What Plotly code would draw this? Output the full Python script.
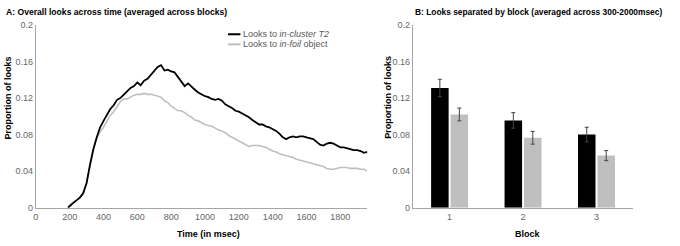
import plotly.graph_objects as go

# ---- Data: panel A (time course) ----
time_ms = [190, 200, 220, 240, 260, 280, 300, 320, 340, 360, 380, 400, 420, 440, 460, 480,
           500, 520, 540, 560, 580, 600, 620, 640, 660, 680, 700, 720, 740, 760, 780, 800,
           820, 840, 860, 880, 900, 920, 940, 960, 980, 1000, 1020, 1040, 1060, 1080, 1100,
           1120, 1140, 1160, 1180, 1200, 1220, 1240, 1260, 1280, 1300, 1320, 1340, 1360,
           1380, 1400, 1420, 1440, 1460, 1480, 1500, 1520, 1540, 1560, 1580, 1600, 1620,
           1640, 1660, 1680, 1700, 1720, 1740, 1760, 1780, 1800, 1820, 1840, 1860, 1880,
           1900, 1920, 1940, 1960]
looks_cluster_t2 = [0, 0.002, 0.005, 0.008, 0.011, 0.016, 0.027, 0.047, 0.064, 0.077, 0.088,
                    0.095, 0.102, 0.108, 0.112, 0.118, 0.120, 0.124, 0.127, 0.131, 0.133, 0.137,
                    0.134, 0.139, 0.141, 0.145, 0.150, 0.154, 0.156, 0.150, 0.151, 0.149, 0.148,
                    0.143, 0.137, 0.133, 0.136, 0.132, 0.129, 0.126, 0.124, 0.122, 0.121, 0.119,
                    0.118, 0.119, 0.117, 0.113, 0.111, 0.109, 0.106, 0.105, 0.103, 0.101, 0.099,
                    0.096, 0.093, 0.091, 0.091, 0.089, 0.088, 0.086, 0.084, 0.081, 0.077, 0.075,
                    0.077, 0.078, 0.077, 0.078, 0.078, 0.077, 0.076, 0.075, 0.072, 0.069, 0.068,
                    0.070, 0.071, 0.070, 0.068, 0.066, 0.066, 0.065, 0.064, 0.063, 0.063, 0.062,
                    0.060, 0.061]
looks_foil = [0, 0.003, 0.006, 0.008, 0.011, 0.015, 0.027, 0.046, 0.064, 0.076, 0.083, 0.088,
              0.095, 0.101, 0.105, 0.111, 0.116, 0.119, 0.119, 0.121, 0.123, 0.124, 0.124,
              0.125, 0.124, 0.124, 0.123, 0.122, 0.121, 0.117, 0.115, 0.111, 0.108, 0.106,
              0.106, 0.104, 0.101, 0.099, 0.096, 0.095, 0.093, 0.091, 0.090, 0.089, 0.087,
              0.085, 0.084, 0.082, 0.079, 0.077, 0.075, 0.073, 0.071, 0.069, 0.067, 0.068,
              0.068, 0.068, 0.067, 0.066, 0.064, 0.062, 0.061, 0.059, 0.058, 0.057, 0.056,
              0.055, 0.053, 0.052, 0.051, 0.050, 0.049, 0.048, 0.047, 0.046, 0.045, 0.043,
              0.042, 0.042, 0.043, 0.044, 0.044, 0.044, 0.043, 0.043, 0.043, 0.042, 0.042,
              0.040]

# ---- Data: panel B (by block) ----
blocks = [1, 2, 3]
block_cluster_t2 = [0.131, 0.0955, 0.080]
block_cluster_t2_err = [0.0095, 0.0085, 0.008]
block_foil = [0.102, 0.0765, 0.057]
block_foil_err = [0.007, 0.007, 0.0055]

y_ticks = [0, 0.04, 0.08, 0.12, 0.16, 0.2]
y_ticktext = ["0", "0.04", "0.08", "0.12", "0.16", "0.2"]
x_ticks = [0, 200, 400, 600, 800, 1000, 1200, 1400, 1600, 1800]

BLACK = "#000000"
GREY = "#bfbfbf"
AXIS = "#a6a6a6"
FONT = "Liberation Sans, Arial, sans-serif"
TICKFONT = dict(family=FONT, size=9, color="#666666")

W, H = 680, 246
def px(x):
    return x / W
def py(y):
    return (H - y) / H

fig = go.Figure()

fig.add_trace(go.Scatter(x=time_ms, y=looks_foil, mode="lines",
                         line=dict(color=GREY, width=1.6), xaxis="x", yaxis="y",
                         name="Looks to in-foil object", showlegend=False))
fig.add_trace(go.Scatter(x=time_ms, y=looks_cluster_t2, mode="lines",
                         line=dict(color=BLACK, width=1.8), xaxis="x", yaxis="y",
                         name="Looks to in-cluster T2", showlegend=False))

fig.add_trace(go.Bar(x=blocks, y=block_cluster_t2, marker=dict(color=BLACK, line=dict(width=0)),
                     error_y=dict(type="data", array=block_cluster_t2_err, color="#444444",
                                  thickness=1, width=2),
                     xaxis="x2", yaxis="y2", showlegend=False, name="in-cluster T2"))
fig.add_trace(go.Bar(x=blocks, y=block_foil, marker=dict(color=GREY, line=dict(width=0)),
                     error_y=dict(type="data", array=block_foil_err, color="#444444",
                                  thickness=1, width=2),
                     xaxis="x2", yaxis="y2", showlegend=False, name="in-foil object"))

ydom = [py(211.3), py(20.7)]
axis_common = dict(showgrid=False, zeroline=False, showline=True, linecolor=AXIS, linewidth=1,
                   ticks="", tickfont=TICKFONT)

fig.update_layout(
    width=W, height=H,
    margin=dict(l=0, r=0, t=0, b=0),
    paper_bgcolor="white", plot_bgcolor="white",
    barmode="group", bargap=0.47, bargroupgap=0.1,
    xaxis=dict(domain=[px(33), px(366)], range=[0, 1960], tickvals=x_ticks,
               anchor="y", **axis_common),
    yaxis=dict(domain=ydom, range=[0, 0.2], tickvals=y_ticks, ticktext=y_ticktext,
               anchor="x", **axis_common),
    xaxis2=dict(domain=[px(411.7), px(633)], range=[0.5, 3.5], tickvals=blocks,
                ticktext=[str(b) for b in blocks], anchor="y2", **axis_common),
    yaxis2=dict(domain=ydom, range=[0, 0.2], tickvals=y_ticks, ticktext=y_ticktext,
                anchor="x2", **axis_common),
    showlegend=False,
)

ann = []
def text(x, y, s, size=9, bold=True, color="#000000", xanchor="left", angle=0):
    ann.append(dict(x=px(x), y=py(y), xref="paper", yref="paper", text=s, showarrow=False,
                    xanchor=xanchor, yanchor="middle", textangle=angle,
                    font=dict(family=FONT, size=size, color=color)))

text(1, 7, "<b>A: Overall looks across time (averaged across blocks)</b>", size=8.6)
text(412, 7, "<b>B: Looks separated by block (averaged across 300-2000msec)</b>", size=8.4)
text(5, 96.5, "<b>Proportion of looks</b>", xanchor="center", angle=-90)
text(386, 96.5, "<b>Proportion of looks</b>", xanchor="center", angle=-90)
text(206.7, 238.5, "<b>Time (in msec)</b>", xanchor="center")
text(527.5, 238.5, "<b>Block</b>", xanchor="center")
text(239.5, 30.5, "Looks to <i>in-cluster T2</i>", color="#595959")
text(239.5, 41, "Looks to <i>in-foil</i> object", color="#595959")

fig.update_layout(annotations=ann)
fig.add_shape(type="line", xref="paper", yref="paper", x0=px(226), x1=px(238.5),
              y0=py(30.5), y1=py(30.5), line=dict(color=BLACK, width=2))
fig.add_shape(type="line", xref="paper", yref="paper", x0=px(226), x1=px(238.5),
              y0=py(41), y1=py(41), line=dict(color=GREY, width=2))

fig.write_html("out.html")
